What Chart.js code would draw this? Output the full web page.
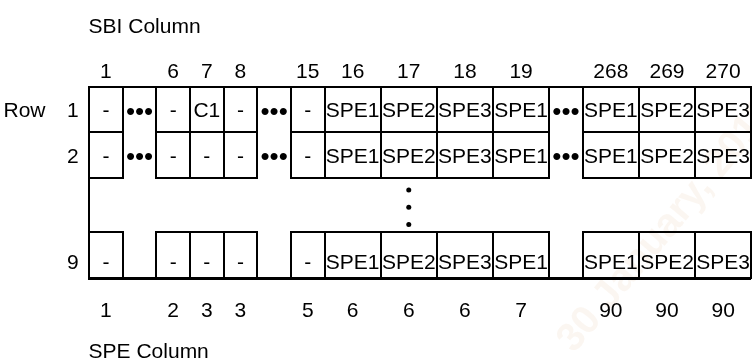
<!DOCTYPE html>
<html>
<head>
<meta charset="utf-8">
<script src="https://cdn.jsdelivr.net/npm/chart.js@4.4.1/dist/chart.umd.min.js"></script>
<style>
html,body{margin:0;padding:0;background:#fff;overflow:hidden}
#wrap{width:752px;height:362px;position:relative}
</style>
</head>
<body>
<div id="wrap"><canvas id="c" width="752" height="362"></canvas></div>
<script>
// ---------------- data ----------------
const sbiColumnLabels = ['1','','6','7','8','','15','16','17','18','19','','268','269','270'];
const speColumnLabels = ['1','','2','3','3','','5','6','6','6','7','','90','90','90'];
const columnKinds     = ['sbi','gap','sbi','sbi','sbi','gap','sbi','spe','spe','spe','spe','gap','spe','spe','spe'];
const rowLabels = ['1','2','9'];
const row1Cells = ['-','•••','-','C1','-','•••','-','SPE1','SPE2','SPE3','SPE1','•••','SPE1','SPE2','SPE3'];
const row2Cells = ['-','•••','-','-','-','•••','-','SPE1','SPE2','SPE3','SPE1','•••','SPE1','SPE2','SPE3'];
const row9Cells = ['-','','-','-','-','','-','SPE1','SPE2','SPE3','SPE1','','SPE1','SPE2','SPE3'];
const topTitle = 'SBI Column';
const bottomTitle = 'SPE Column';
const rowTitle = 'Row';
const skippedRowsColumn = '17';           // column holding the vertical ellipsis
const skippedRowsDots = [2.27, 2.65, 3.03]; // row-unit positions of the vertical ellipsis dots
const watermarkText = '30 January, 2013';

// ---------------- layout ----------------
const W = 752, H = 362;
const GRID_LEFT_PX = 86, UNIT_PX = 34, GRID_TOP_PX = 85, ROW_PX = 46.4;
const WIDE = 56.75 / 34;
const widthOf = k => (k === 'spe' ? WIDE : 1);
const edges = [0];
columnKinds.forEach((k, i) => edges.push(edges[i] + widthOf(k)));
const colCenter = i => (edges[i] + edges[i + 1]) / 2;

const rows = [
  {v0: 0,   v1: 1,   cells: row1Cells, label: rowLabels[0], textShift: 0},
  {v0: 1,   v1: 2,   cells: row2Cells, label: rowLabels[1], textShift: 0},
  {v0: 3.2, v1: 4.2, cells: row9Cells, label: rowLabels[2], textShift: 0.14}
];

const FONT = '"Liberation Sans", Arial, Helvetica, sans-serif';
const FS = 21;
const CAP = 0.358;

const dotCol = sbiColumnLabels.indexOf(skippedRowsColumn);
const dotPoints = skippedRowsDots.map(v => ({x: colCenter(dotCol), y: v}));

const gridPlugin = {
  id: 'grid',
  beforeDraw(chart) {
    const ctx = chart.ctx;
    ctx.save();
    ctx.fillStyle = '#fff';
    ctx.fillRect(0, 0, W, H);
    // watermark
    ctx.translate(574, 354);
    ctx.rotate(-50 * Math.PI / 180);
    ctx.font = 'bold 40px ' + FONT;
    ctx.fillStyle = 'rgba(225,185,150,0.13)';
    ctx.textAlign = 'left';
    ctx.textBaseline = 'alphabetic';
    ctx.fillText(watermarkText, 0, 0);
    ctx.restore();
  },
  afterDraw(chart) {
    const ctx = chart.ctx;
    const xs = chart.scales.x, ys = chart.scales.y;
    const X = u => Math.round(xs.getPixelForValue(u));
    const Y = v => Math.round(ys.getPixelForValue(v));
    const n = columnKinds.length;
    const last = edges[n];
    ctx.save();
    ctx.strokeStyle = '#000';
    ctx.lineWidth = 2;
    ctx.lineCap = 'square';
    const line = (x0, y0, x1, y1) => { ctx.beginPath(); ctx.moveTo(x0, y0); ctx.lineTo(x1, y1); ctx.stroke(); };

    // top border (continuous)
    line(X(0), Y(0), X(last), Y(0));
    // left border (continuous)
    line(X(0), Y(0), X(0), Y(rows[2].v1));
    // upper block: verticals at every edge
    for (let i = 0; i <= n; i++) line(X(edges[i]), Y(rows[0].v0), X(edges[i]), Y(rows[1].v1));
    // upper block: horizontal lines under non-gap cells
    [rows[0], rows[1]].forEach(r => {
      for (let i = 0; i < n; i++) {
        if (columnKinds[i] === 'gap') continue;
        line(X(edges[i]), Y(r.v1), X(edges[i + 1]), Y(r.v1));
      }
    });
    // last row: boxes around non-gap cells
    const r9 = rows[2];
    for (let i = 0; i < n; i++) {
      if (columnKinds[i] === 'gap') continue;
      line(X(edges[i]), Y(r9.v0), X(edges[i + 1]), Y(r9.v0));
      line(X(edges[i]), Y(r9.v0), X(edges[i]), Y(r9.v1));
      line(X(edges[i + 1]), Y(r9.v0), X(edges[i + 1]), Y(r9.v1));
    }
    // bottom border (continuous, heavier)
    ctx.lineWidth = 3;
    ctx.lineCap = 'butt';
    const yb = Y(r9.v1) + 0.5;
    ctx.beginPath(); ctx.moveTo(X(0) - 1, yb); ctx.lineTo(X(last), yb); ctx.stroke();

    // texts
    ctx.fillStyle = '#000';
    ctx.textBaseline = 'alphabetic';
    const txt = (s, x, yc, align, size) => {
      const fs = size || FS;
      ctx.font = fs + 'px ' + FONT;
      ctx.textAlign = align;
      ctx.fillText(s, x, yc + CAP * fs);
    };
    const py = v => ys.getPixelForValue(v);
    const px = u => xs.getPixelForValue(u);

    txt(topTitle, px(0) - 0.5, py(-1.364), 'left');
    txt(bottomTitle, px(0) - 0.5, py(5.806), 'left');
    for (let i = 0; i < n; i++) {
      if (sbiColumnLabels[i]) txt(sbiColumnLabels[i], px(colCenter(i)), py(-0.366), 'center');
      if (speColumnLabels[i]) txt(speColumnLabels[i], px(colCenter(i)), py(4.892), 'center');
    }
    txt(rowTitle, 3.5, py((rows[0].v0 + rows[0].v1) / 2), 'left');
    rows.forEach(r => {
      const yc = py((r.v0 + r.v1) / 2 + r.textShift);
      txt(r.label, px(-0.31), yc, 'right');
      r.cells.forEach((s, i) => {
        if (!s) return;
        if (s === '•••') txt(s, px(colCenter(i)), yc + 1, 'center', 26);
        else txt(s, px(colCenter(i)), yc, 'center');
      });
    });
    ctx.restore();
  }
};

new Chart(document.getElementById('c'), {
  type: 'scatter',
  data: {
    datasets: [{
      data: dotPoints,
      pointRadius: 2.5,
      pointBackgroundColor: '#000',
      pointBorderWidth: 0,
      showLine: false
    }]
  },
  options: {
    responsive: false,
    animation: false,
    events: [],
    layout: {padding: 0},
    plugins: {legend: {display: false}, tooltip: {enabled: false}, title: {display: false}},
    scales: {
      x: {type: 'linear', display: false, min: -GRID_LEFT_PX / UNIT_PX, max: (W - GRID_LEFT_PX) / UNIT_PX},
      y: {type: 'linear', display: false, reverse: true, min: -GRID_TOP_PX / ROW_PX, max: (H - GRID_TOP_PX) / ROW_PX}
    }
  },
  plugins: [gridPlugin]
});
</script>
</body>
</html>
